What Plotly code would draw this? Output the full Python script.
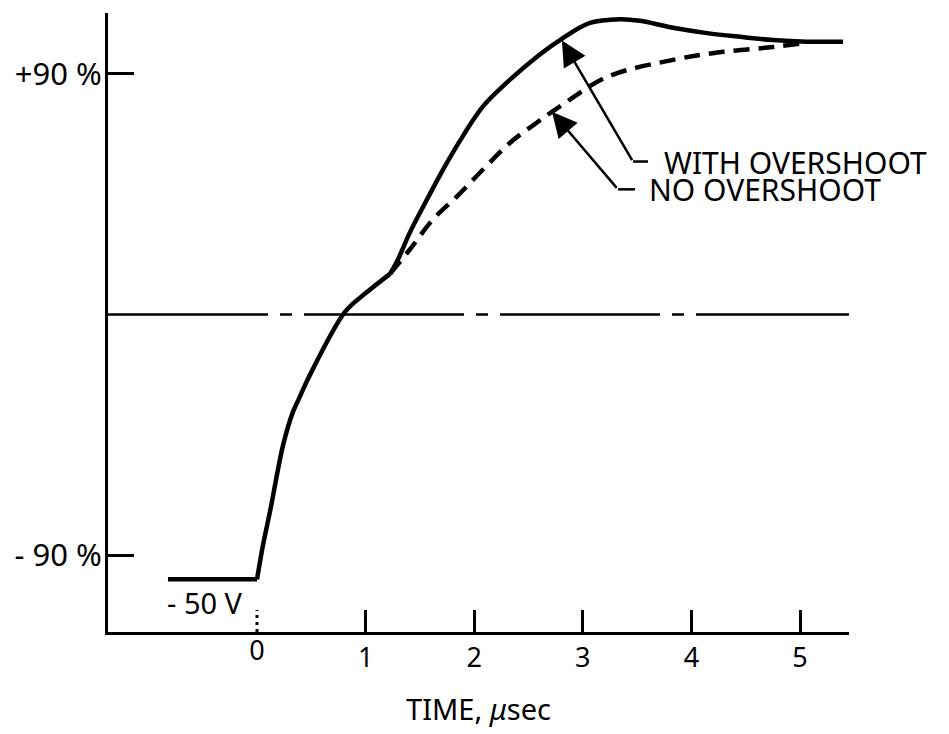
import plotly.graph_objects as go

# ---- data (time in microseconds, level in volts) ----
t_flat = [-0.82, 0.0]
v_flat = [-49.5, -49.5]

t_with = [0.0, 0.055, 0.120, 0.239, 0.331, 0.396, 0.470, 0.810, 1.013, 1.225]
v_with = [-49.5, -43.1, -36.8, -24.5, -18.2, -15.3, -12.0, 0.5, 4.2, 7.6]

t_with_late = [1.225, 1.298, 1.409, 1.565, 1.713, 1.897, 2.081, 2.330, 2.578, 2.790,
               3.066, 3.343, 3.527, 3.831, 4.144, 4.448, 4.751, 5.064, 5.396]
v_with_late = [7.6, 10.3, 15.4, 21.5, 27.1, 33.4, 38.9, 43.9, 48.2, 51.3,
               54.5, 55.2, 54.9, 53.6, 52.6, 51.9, 51.3, 51.0, 51.0]

t_no = [1.225, 1.409, 1.621, 1.842, 2.081, 2.330, 2.578, 2.790, 3.223, 3.831, 4.291, 4.751, 5.064]
v_no = [7.6, 12.2, 17.8, 22.1, 27.1, 32.1, 35.9, 38.9, 44.4, 47.6, 49.1, 50.0, 50.8]

x_ticks = [1, 2, 3, 4, 5]
y_ticks = [-45, 45]
y_tick_labels = ["- 90 %", "+90 %"]
x_range = [-1.372, 5.451]
y_range = [-59.34, 56.36]

FONT = "Noto Sans"
fig = go.Figure()

common = dict(mode="lines", showlegend=False, hoverinfo="skip")
fig.add_trace(go.Scatter(x=t_no, y=v_no, line=dict(color="black", width=4.5, dash="16px,9px",
                                                   shape="spline", smoothing=1.0), **common))
fig.add_trace(go.Scatter(x=t_flat, y=v_flat, line=dict(color="black", width=4.5), **common))
fig.add_trace(go.Scatter(x=t_with, y=v_with, line=dict(color="black", width=4.5,
                                                       shape="spline", smoothing=0.9), **common))
fig.add_trace(go.Scatter(x=t_with_late, y=v_with_late, line=dict(color="black", width=4.5,
                                                                 shape="spline", smoothing=1.0), **common))

# dotted tick at t = 0
tick_len_v = 22 / 5.367
fig.add_trace(go.Scatter(x=[0, 0], y=[y_range[0], y_range[0] + tick_len_v],
                         line=dict(color="black", width=3, dash="3px,4px"), xaxis="x2", **common))

# 0 V reference (dash-dot)
fig.add_shape(type="line", xref="paper", x0=0, x1=1, yref="y", y0=0, y1=0,
              line=dict(color="black", width=2.5, dash="160px,12px,12px,12px"), layer="below")

# leader lines + arrows
# WITH OVERSHOOT
fig.add_shape(type="line", xref="x", yref="y", x0=3.462, y0=28.6, x1=3.60, y1=28.6,
              line=dict(color="black", width=2.5))
fig.add_annotation(x=2.808, y=51.2, ax=3.462, ay=28.6, xref="x", yref="y", axref="x", ayref="y",
                   text="", showarrow=True, arrowhead=2, arrowsize=2.0, arrowwidth=2.5,
                   arrowcolor="black")
fig.add_annotation(x=3.729, y=28.4, text="WITH OVERSHOOT", showarrow=False,
                   xanchor="left", yanchor="middle", font=dict(family=FONT, size=30, color="black"))
# NO OVERSHOOT
fig.add_shape(type="line", xref="x", yref="y", x0=3.324, y0=23.4, x1=3.481, y1=23.4,
              line=dict(color="black", width=2.5))
fig.add_annotation(x=2.716, y=37.9, ax=3.324, ay=23.4, xref="x", yref="y", axref="x", ayref="y",
                   text="", showarrow=True, arrowhead=2, arrowsize=2.0, arrowwidth=2.5,
                   arrowcolor="black")
fig.add_annotation(x=3.591, y=23.4, text="NO OVERSHOOT", showarrow=False,
                   xanchor="left", yanchor="middle", font=dict(family=FONT, size=30, color="black"))

# level labels
fig.add_annotation(x=5.534, y=50.4, text="+50 V", showarrow=False, xanchor="left", yanchor="middle",
                   font=dict(family=FONT, size=29, color="black"))
fig.add_annotation(x=-0.479, y=-53.9, text="- 50 V", showarrow=False, xanchor="center", yanchor="middle",
                   font=dict(family=FONT, size=29, color="black"))

fig.update_layout(
    width=949, height=734,
    margin=dict(l=108, r=100, t=13, b=100),
    paper_bgcolor="white", plot_bgcolor="white",
    font=dict(family=FONT, size=27, color="black"),
    xaxis=dict(range=x_range, tickvals=x_ticks, ticktext=[str(v) for v in x_ticks],
               ticks="inside", ticklen=22, tickwidth=3, tickcolor="black",
               showline=True, linewidth=3, linecolor="black", showgrid=False, zeroline=False,
               tickfont=dict(family=FONT, size=27),
               title=dict(text="TIME, <i>μ</i>sec", font=dict(family=FONT, size=29), standoff=26)),
    xaxis2=dict(range=x_range, overlaying="x", anchor="y", side="bottom", tickvals=[0], ticktext=["0"],
                ticks="", showline=False, showgrid=False, zeroline=False,
                tickfont=dict(family=FONT, size=27)),
    yaxis=dict(range=y_range, tickvals=y_ticks, ticktext=y_tick_labels,
               ticks="inside", ticklen=26, tickwidth=3, tickcolor="black",
               showline=True, linewidth=3, linecolor="black", showgrid=False, zeroline=False,
               ticklabelstandoff=-3,
               tickfont=dict(family=FONT, size=31)),
    showlegend=False,
)

fig.write_html("out.html")
